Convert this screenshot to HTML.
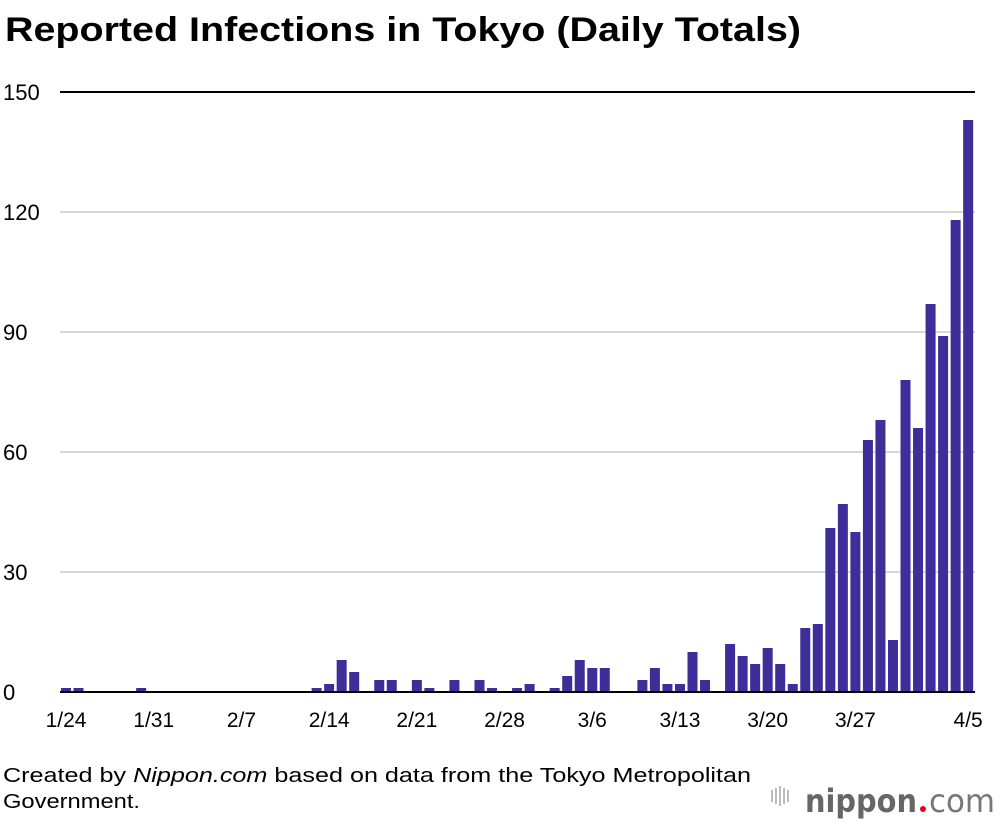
<!DOCTYPE html>
<html><head><meta charset="utf-8"><style>
body{margin:0;background:#fff;width:1000px;height:822px;overflow:hidden;font-family:"Liberation Sans",sans-serif;}
</style></head><body>
<svg width="1000" height="822" xmlns="http://www.w3.org/2000/svg">
<text x="5" y="41" font-size="34" font-weight="bold" fill="#000" textLength="796" lengthAdjust="spacingAndGlyphs">Reported Infections in Tokyo (Daily Totals)</text>
<g id="grid"></g>
<g id="bars"></g>
<g id="xl"></g>
<text x="3" y="782" font-size="20" fill="#000" textLength="748" lengthAdjust="spacingAndGlyphs">Created by <tspan font-style="italic">Nippon.com</tspan> based on data from the Tokyo Metropolitan</text>
<text x="3" y="808" font-size="20" fill="#000" textLength="137" lengthAdjust="spacingAndGlyphs">Government.</text>
<g>
<g fill="#bbb"><rect x="771" y="790" width="2" height="12"/><rect x="775" y="788" width="2" height="16"/><rect x="779" y="786" width="2" height="20"/><rect x="783" y="788" width="2" height="16"/><rect x="787" y="790" width="2" height="12"/></g>
<text x="805" y="812" font-size="32" fill="#666" font-weight="bold" font-family="DejaVu Sans, sans-serif" textLength="112" lengthAdjust="spacingAndGlyphs">nippon</text>
<circle cx="923" cy="809" r="3" fill="#e60012"/>
<text x="929" y="812" font-size="32" fill="#777" font-family="DejaVu Sans, sans-serif" textLength="66" lengthAdjust="spacingAndGlyphs">com</text>
</g>
</svg>
<script>
const values=[1,1,0,0,0,0,1,0,0,0,0,0,0,0,0,0,0,0,0,0,1,2,8,5,0,3,3,0,3,1,0,3,0,3,1,0,1,2,0,1,4,8,6,6,0,0,3,6,2,2,10,3,0,12,9,7,11,7,2,16,17,41,47,40,63,68,13,78,66,97,89,118,143];
const tickIdx=[0,7,14,21,28,35,42,49,56,63,72];
const tickLabels=["1/24","1/31","2/7","2/14","2/21","2/28","3/6","3/13","3/20","3/27","4/5"];
const yTicks=[0,30,60,90,120,150];
const NS="http://www.w3.org/2000/svg";
const x0=66,step=12.53,bw=10;
function xs(i){return x0+i*step;}
function ys(v){return 692-v*4;}
const grid=document.getElementById('grid');
yTicks.forEach(t=>{
 const l=document.createElementNS(NS,'line');
 l.setAttribute('x1',60);l.setAttribute('x2',975);l.setAttribute('y1',ys(t));l.setAttribute('y2',ys(t));
 l.setAttribute('stroke',(t===0||t===150)?'#000':'#ccc');l.setAttribute('stroke-width',(t===0||t===150)?2:1.5);
 
 
 grid.appendChild(l);
 const tx=document.createElementNS(NS,'text');
 tx.setAttribute('x',3);tx.setAttribute('y',ys(t)+8);tx.setAttribute('font-size',22);
 tx.textContent=t;
 
 
 grid.appendChild(tx);
});
const bars=document.getElementById('bars');
values.forEach((v,i)=>{
 if(v<=0)return;
 const r=document.createElementNS(NS,'rect');
 r.setAttribute('x',xs(i)-bw/2);r.setAttribute('width',bw);
 r.setAttribute('y',ys(v));r.setAttribute('height',v*4);r.setAttribute('fill','#3d2e99');
 
 
 bars.appendChild(r);
});
grid.parentNode.appendChild(grid.querySelector('line'));
const xl=document.getElementById('xl');
tickIdx.forEach((ix,k)=>{
 const tx=document.createElementNS(NS,'text');
 tx.setAttribute('x',xs(ix));tx.setAttribute('y',727);tx.setAttribute('font-size',21);tx.setAttribute('text-anchor','middle');
 tx.textContent=tickLabels[k];
 
 
 xl.appendChild(tx);
});
</script>
</body></html>
